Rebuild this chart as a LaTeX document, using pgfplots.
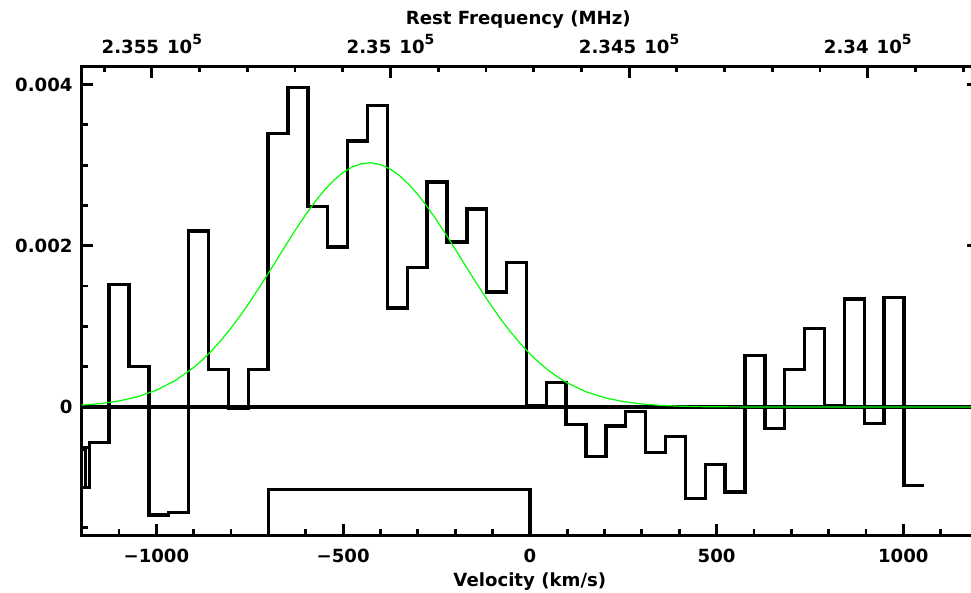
\documentclass[border=0pt]{standalone}
\usepackage{fontspec}
\setmainfont{DejaVu Sans}
\usepackage{pgfplots}
\pgfplotsset{compat=1.18}
\definecolor{fitgreen}{RGB}{0,255,0}
\newcommand{\lf}{\fontsize{18.2}{21}\selectfont\bfseries}
\newcommand{\tenf}{10\raisebox{0.5em}{\fontsize{14}{14}\selectfont 5}}
\begin{document}
\begin{tikzpicture}
\begin{axis}[
  at={(81.7bp,57.3bp)}, anchor=south west,
  scale only axis, width=896.3bp, height=469bp,
  xmin=-1200, xmax=1200, ymin=-1.5968e-3, ymax=4.2221e-3,
  axis line style={line width=3.2bp},
  tick align=inside,
  xtick pos=left, ytick pos=both,
  major tick length=11.5bp, minor tick length=6.5bp,
  tick style={line width=2.8bp, black},
  xtick={-1000,-500,0,500,1000},
  xticklabels={−1000,−500,0,500,1000},
  minor xtick={-1100,-900,-800,-700,-600,-400,-300,-200,-100,100,200,300,400,600,700,800,900,1100},
  ytick={0,0.002,0.004},
  yticklabels={0,0.002,0.004},
  minor ytick={-0.0015,-0.001,-0.0005,0.0005,0.001,0.0015,0.0025,0.003,0.0035},
  scaled y ticks=false,
  every tick label/.append style={font=\lf},
  xticklabel style={yshift=-10bp},
  yticklabel style={xshift=-5.6bp},
  xlabel={Velocity (km/s)},
  xlabel style={font=\lf, at={(rel axis cs:0.5,0)}, anchor=base, yshift=-51bp},
]
% zero line
\addplot[black, line width=3.3bp] coordinates {(-1200,0) (1200,0)};
% line window bar
\addplot[black, line width=3.3bp] coordinates {(-700,-0.002) (-700,-1.02e-3) (0,-1.02e-3) (0,-0.002)};
% spectrum histogram (left bin edges, value)
\addplot[black, line width=3.4bp, const plot mark left] coordinates {
(-1200,-0.52e-3) (-1190,-1.00e-3)
(-1179.7,-0.443e-3) (-1126.5,1.522e-3) (-1073.3,0.505e-3) (-1020.1,-1.340e-3)
(-966.9,-1.311e-3) (-913.6,2.184e-3) (-860.4,0.467e-3) (-807.2,-0.02e-3)
(-754.0,0.467e-3) (-700.8,3.391e-3) (-647.6,3.962e-3) (-594.4,2.490e-3)
(-541.2,1.985e-3) (-488.0,3.300e-3) (-434.8,3.743e-3) (-381.6,1.228e-3)
(-328.4,1.729e-3) (-275.1,2.792e-3) (-221.9,2.047e-3) (-168.7,2.457e-3)
(-115.5,1.427e-3) (-62.3,1.791e-3) (-9.1,0.01e-3) (44.1,0.303e-3)
(97.3,-0.215e-3) (150.5,-0.616e-3) (203.7,-0.236e-3) (256.9,-0.057e-3)
(310.1,-0.566e-3) (363.4,-0.367e-3) (416.6,-1.133e-3) (469.8,-0.711e-3)
(523.0,-1.055e-3) (576.2,0.641e-3) (629.4,-0.264e-3) (682.6,0.468e-3)
(735.8,0.976e-3) (789.0,0.015e-3) (842.2,1.339e-3) (895.4,-0.203e-3)
(948.6,1.355e-3) (1001.9,-0.976e-3) (1055.1,-0.976e-3)
};
% gaussian fit
\addplot[fitgreen, line width=1.2bp] coordinates {
(-1200,0.0228e-3) (-1150,0.0422e-3) (-1100,0.0749e-3) (-1050,0.1275e-3)
(-1000,0.2083e-3) (-950,0.3263e-3) (-900,0.4906e-3) (-875,0.5924e-3)
(-850,0.7081e-3) (-825,0.8375e-3) (-800,0.9806e-3) (-775,1.1359e-3)
(-750,1.3029e-3) (-725,1.4789e-3) (-700,1.6614e-3) (-675,1.8474e-3)
(-650,2.0331e-3) (-625,2.2149e-3) (-600,2.3879e-3) (-575,2.5479e-3)
(-550,2.6909e-3) (-525,2.8128e-3) (-500,2.9100e-3) (-475,2.9797e-3)
(-450,3.0200e-3) (-425,3.0299e-3) (-400,3.0077e-3) (-375,2.9554e-3)
(-350,2.8743e-3) (-325,2.7667e-3) (-300,2.6361e-3) (-275,2.4858e-3)
(-250,2.3201e-3) (-225,2.1428e-3) (-200,1.9592e-3) (-175,1.7729e-3)
(-150,1.5877e-3) (-125,1.4077e-3) (-100,1.2350e-3) (-75,1.0723e-3)
(-50,0.9217e-3) (-25,0.7842e-3) (0,0.6599e-3) (25,0.5502e-3)
(50,0.4536e-3) (75,0.3703e-3) (100,0.2994e-3) (150,0.1894e-3)
(200,0.1150e-3) (250,0.0670e-3) (300,0.0375e-3) (350,0.0201e-3)
(400,0.0104e-3) (450,0.0051e-3) (500,0.0024e-3) (600,0.0005e-3)
(800,0) (1200,0)
};
\end{axis}
\begin{axis}[
  at={(81.7bp,57.3bp)}, anchor=south west,
  scale only axis, width=896.3bp, height=469bp,
  xmin=233769, xmax=235647, x dir=reverse,
  ymin=0, ymax=1,
  hide y axis,
  axis line style={line width=3.2bp},
  tick align=inside,
  xtick pos=right, xticklabel pos=right,
  major tick length=11.5bp, minor tick length=5.5bp,
  tick style={line width=2.8bp, black},
  xtick={234000,234500,235000,235500},
  xticklabels={2.34\hspace{8bp}\tenf, 2.345\hspace{8bp}\tenf, 2.35\hspace{8bp}\tenf, 2.355\hspace{8bp}\tenf},
  minor xtick={233800,233900,234100,234200,234300,234400,234600,234700,234800,234900,235100,235200,235300,235400,235600},
  scaled x ticks=false,
  every tick label/.append style={font=\lf},
  xticklabel style={yshift=9bp},
  xlabel={Rest Frequency (MHz)},
  xlabel style={font=\lf, at={(rel axis cs:0.5,1)}, anchor=base, xshift=-11.6bp, yshift=41.7bp},
]
\addplot[draw=none] coordinates {(234000,0.5)};
\end{axis}
\pgfresetboundingbox
\useasboundingbox (0,0) rectangle (971bp,593bp);
\end{tikzpicture}
\end{document}
